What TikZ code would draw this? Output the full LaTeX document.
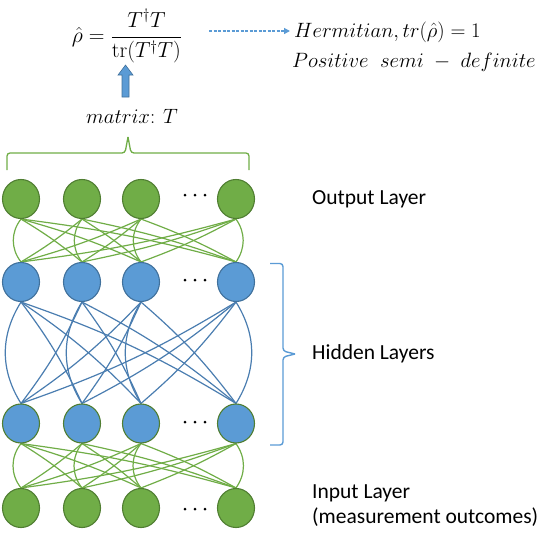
\documentclass[tikz,border=0pt]{standalone}
\usepackage{graphicx}
\usepackage[no-math]{fontspec}
\setmainfont{Carlito}
\usetikzlibrary{arrows.meta,shapes.geometric,backgrounds}
\definecolor{gfill}{HTML}{70AD47}
\definecolor{gdraw}{HTML}{507E32}
\definecolor{bfill}{HTML}{5B9BD5}
\definecolor{bdraw}{HTML}{41719C}
\definecolor{bline}{HTML}{4A7DB0}
\begin{document}
\begin{tikzpicture}[x=1pt,y=-1pt,
  neuron/.style={ellipse,minimum width=37pt,minimum height=39pt,inner sep=0pt,line width=1.1pt},
  gnode/.style={neuron,fill=gfill,draw=gdraw},
  bnode/.style={neuron,fill=bfill,draw=bdraw},
  bgnode/.style={neuron,fill=bfill,draw=gdraw},
  gline/.style={draw=gfill,line width=1.2pt},
  bline/.style={draw=bline,line width=1.2pt},
  lbl/.style={font=\fontsize{21.5}{25}\selectfont,anchor=west,inner sep=0pt},
  mth/.style={font=\fontsize{20}{24}\selectfont,inner sep=0pt},
  dotsty/.style={circle,fill=black,inner sep=0pt,minimum size=3pt}
]
\useasboundingbox (0,0) rectangle (542,536);
% columns
\def\xa{21}\def\xb{82}\def\xc{141}\def\xd{236}
\foreach \n/\x in {1/\xa,2/\xb,3/\xc,4/\xd}{
  \node[gnode] (o\n) at (\x,199) {};
  \node[bnode] (a\n) at (\x,282) {};
  \node[bgnode] (b\n) at (\x,423.5) {};
  \node[gnode] (i\n) at (\x,508) {};
}
% dots
\foreach \r/\y in {o/195,a/280,b/422,i/509}{
  \node[dotsty] (\r d1) at (185,\y) {};
  \node[dotsty] (\r d2) at (195,\y) {};
  \node[dotsty] (\r d3) at (205,\y) {};
}
% connections
\begin{pgfonlayer}{background}
\foreach \i in {1,...,4}{
  \foreach \j in {1,...,4}{
    \ifnum\i=\j\relax
      \ifnum\i=4\relax
        \draw[gline] (o\i.south) to[bend left=35] (a\j.north);
        \draw[bline] (a\i.south) to[bend left=32] (b\j.north);
        \draw[gline] (b\i.south) to[bend left=35] (i\j.north);
      \else
        \draw[gline] (o\i.south) to[bend right=38] (a\j.north);
        \draw[bline] (a\i.south) to[bend right=32] (b\j.north);
        \draw[gline] (b\i.south) to[bend right=38] (i\j.north);
      \fi
    \else
      \draw[gline] (o\i.south) to[bend left=4] (a\j.north);
      \draw[bline] (a\i.south) to[bend left=6] (b\j.north);
      \draw[gline] (b\i.south) to[bend left=4] (i\j.north);
    \fi
  }
}
\end{pgfonlayer}
% top brace
\draw[draw=gfill,line width=1.3pt,rounded corners=3pt]
  (7,170) -- (7,153) -- (125,153) -- (128,137);
\draw[draw=gfill,line width=1.3pt,rounded corners=3pt]
  (128,137) -- (131,153) -- (249,153) -- (249,170);
% right brace
\draw[draw=bfill,line width=1.4pt,rounded corners=3pt]
  (270,263.5) -- (283,263.5) -- (283,351) -- (295,354);
\draw[draw=bfill,line width=1.4pt,rounded corners=3pt]
  (295,354) -- (283,357) -- (283,445) -- (270,445);
% labels
\node[lbl] (lout) at (312,199) {Output Layer};
\node[lbl] (lhid) at (312,354) {Hidden Layers};
\node[lbl] (lin) at (312,493) {Input Layer};
\node[lbl] (lin2) at (312,517) {(measurement outcomes)};
% formula
\node[mth] (rho) at (127,36) {\scalebox{1.05}{$\displaystyle\hat{\rho}=\frac{T^{\dagger}T}{\mathrm{tr}(T^{\dagger}T)}$}};
\node[mth] (mat) at (132,116) {$matrix\colon\ T$};
% block arrow
\filldraw[fill=bfill,draw=bdraw,line width=0.6pt]
  (122,97) -- (122,75) -- (118,75) -- (125.5,65) -- (133,75) -- (129,75) -- (129,97) -- cycle;
% properties
\node[mth,anchor=west] (herm) at (294,32) {$Hermitian,tr(\hat{\rho})=1$};
\node[mth,anchor=west] (pos) at (292,62) {$Positive\;\; semi\mathbin{\;-\;}definite$};
\coordinate (ds) at (209,31);
\draw[draw=bfill,line width=1.3pt,dashed,dash pattern=on 3pt off 1.5pt,-{Triangle[length=6pt,width=6pt]}]
  (ds) -- ([xshift=-4pt]herm.west |- ds);
\end{tikzpicture}
\end{document}
